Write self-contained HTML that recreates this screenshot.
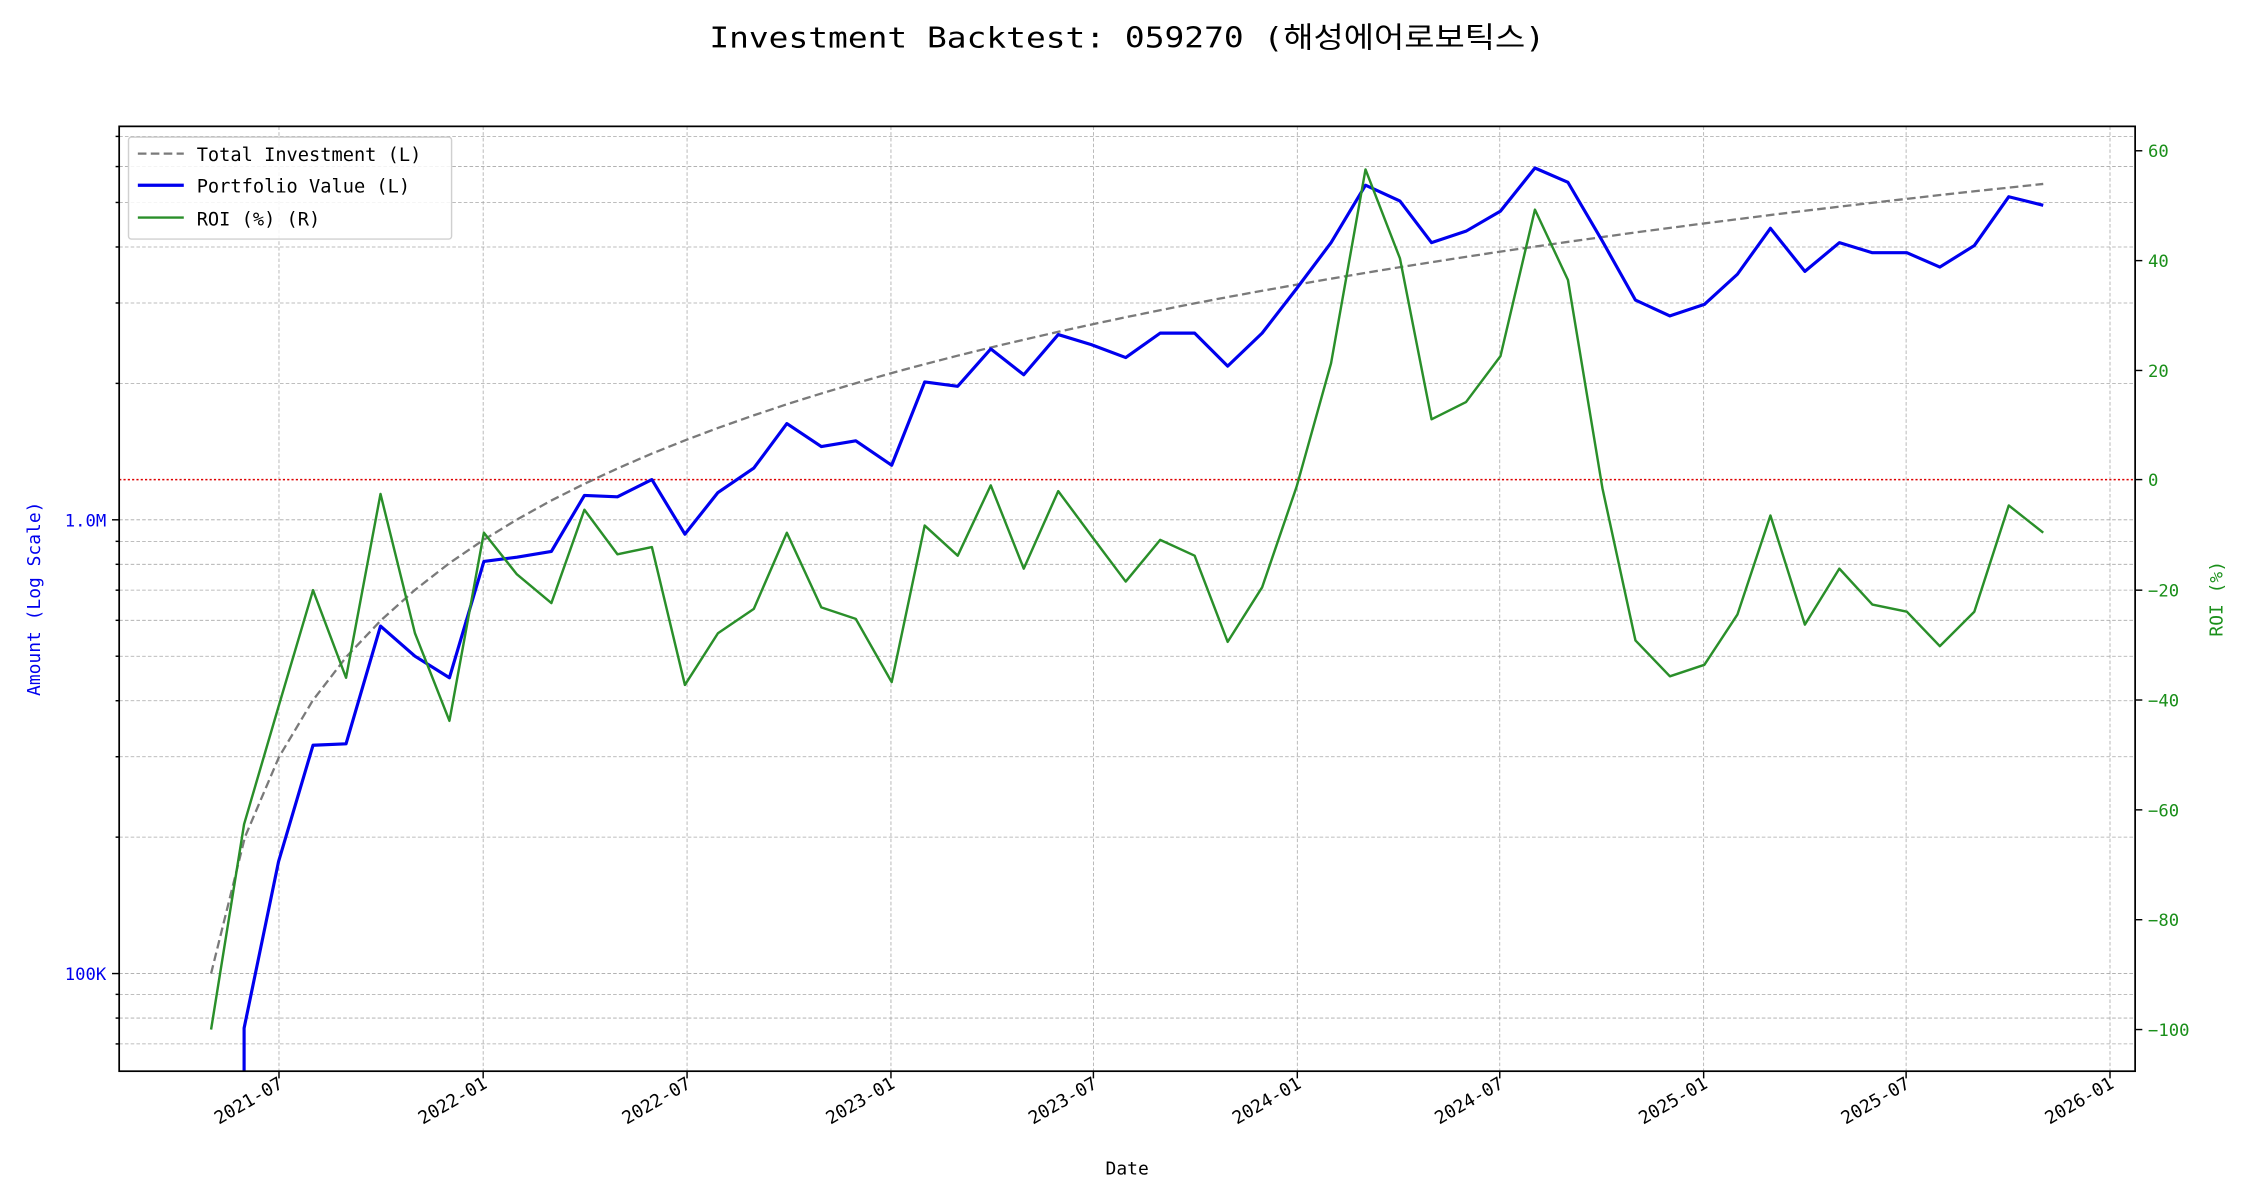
<!DOCTYPE html>
<html><head><meta charset="utf-8"><style>html,body{margin:0;padding:0;background:#fff}svg{display:block}</style></head>
<body>
<svg width="2250" height="1200" viewBox="0 0 1567 835.7" preserveAspectRatio="none" xmlns="http://www.w3.org/2000/svg" font-family="'DejaVu Sans Mono','Liberation Mono','Noto Sans CJK KR',monospace">
<rect width="1567" height="836" fill="#fff"/>
<text x="785" y="33" font-size="20" text-anchor="middle" textLength="582" lengthAdjust="spacingAndGlyphs" fill="#000">Investment Backtest: 059270 (해성에어로보틱스)</text>
<g stroke="#a8a8a8" stroke-width="0.55" stroke-dasharray="2.5,1.5">
<line x1="83" x2="1487" y1="95" y2="95"/><line x1="83" x2="1487" y1="116" y2="116"/><line x1="83" x2="1487" y1="141" y2="141"/><line x1="83" x2="1487" y1="172" y2="172"/><line x1="83" x2="1487" y1="211" y2="211"/><line x1="83" x2="1487" y1="267" y2="267"/><line x1="83" x2="1487" y1="362" y2="362"/><line x1="83" x2="1487" y1="377" y2="377"/><line x1="83" x2="1487" y1="393" y2="393"/><line x1="83" x2="1487" y1="411" y2="411"/><line x1="83" x2="1487" y1="432" y2="432"/><line x1="83" x2="1487" y1="457" y2="457"/><line x1="83" x2="1487" y1="488" y2="488"/><line x1="83" x2="1487" y1="527" y2="527"/><line x1="83" x2="1487" y1="583" y2="583"/><line x1="83" x2="1487" y1="678" y2="678"/><line x1="83" x2="1487" y1="692.5" y2="692.5"/><line x1="83" x2="1487" y1="709" y2="709"/><line x1="83" x2="1487" y1="727" y2="727"/>
<line y1="88" y2="746" x1="194.3" x2="194.3"/><line y1="88" y2="746" x1="336.5" x2="336.5"/><line y1="88" y2="746" x1="478.5" x2="478.5"/><line y1="88" y2="746" x1="620.5" x2="620.5"/><line y1="88" y2="746" x1="761.5" x2="761.5"/><line y1="88" y2="746" x1="903.5" x2="903.5"/><line y1="88" y2="746" x1="1044.5" x2="1044.5"/><line y1="88" y2="746" x1="1186.5" x2="1186.5"/><line y1="88" y2="746" x1="1327.5" x2="1327.5"/><line y1="88" y2="746" x1="1469.5" x2="1469.5"/>
</g>
<line x1="83" x2="1487" y1="334" y2="334" stroke="#d00" stroke-width="1" stroke-dasharray="1.5,1.5"/>
<defs><clipPath id="c"><rect x="83" y="88" width="1404" height="658"/></clipPath></defs>
<g clip-path="url(#c)" fill="none" stroke-linejoin="round">
<polyline stroke="#7a7a7a" stroke-width="1.6" stroke-dasharray="6,3" points="147,678 170.6,582.9 194.3,527.2 217.9,487.7 241.5,457.1 265.2,432.1 288.8,411 312.4,392.6 336,376.5 359.7,362 383.3,348.9 406.9,337 430.6,326 454.2,315.8 477.8,306.4 501.5,297.5 525.1,289.2 548.7,281.3 572.4,273.9 596,266.9 619.6,260.2 643.3,253.8 666.9,247.7 690.5,241.9 714.2,236.3 737.8,230.9 761.4,225.7 785.1,220.7 808.7,215.9 832.3,211.2 856,206.7 879.6,202.4 903.2,198.2 926.9,194.1 950.5,190.1 974.1,186.2 997.8,182.5 1021.4,178.8 1045,175.2 1068.7,171.8 1092.3,168.4 1115.9,165.1 1139.6,161.8 1163.2,158.7 1186.8,155.6 1210.5,152.6 1234.1,149.6 1257.7,146.7 1281.4,143.9 1305,141.1 1328.6,138.4 1352.3,135.7 1375.9,133.1 1399.5,130.6 1423,128.1"/>
<polyline stroke="#0000ee" stroke-width="2.2" points="170,760 170,716 194,600 218,519 241,518 265,436 289,457 313,472 337,391 360,388 384,384 407,345 430,346 454,334 477,372 500,343 525,326 548,295 572,311 596,307 621,324 644,266 667,269 690,243 713,261 737,233 760,240 784,249 808,232 832,232 855,255 879,232 903,201 927,169 951,129 975,140 997,169 1021,161 1045,147 1069,117 1092,127 1116,168 1139,209 1163,220 1187,212 1210,191 1233,159 1257,189 1281,169 1304,176 1328,176 1351,186 1375,171 1399,137 1423,143"/>
<polyline stroke="#2a8f2a" stroke-width="1.7" points="147,717 170,574 194,492 218,411 241,472 265,344 289,441 313,502 337,371 360,400 384,420 407,355 430,386 454,381 477,477 500,441 525,424 548,371 572,423 596,431 621,475 644,366 667,387 690,338 713,396 737,342 760,373 784,405 808,376 832,387 855,447 879,409 903,339 927,253 951,118 975,180 997,292 1021,280 1045,248 1069,146 1092,195 1116,340 1139,446 1163,471 1187,463 1210,428 1233,359 1257,435 1281,396 1304,421 1328,426 1351,450 1375,426 1399,352 1423,371"/>
</g>
<rect x="83" y="88" width="1404" height="658" fill="none" stroke="#000" stroke-width="1.2"/>
<g stroke="#000" stroke-width="1">
<line x1="78" x2="83" y1="362" y2="362"/><line x1="78" x2="83" y1="678" y2="678"/>
<line x1="80.5" x2="83" y1="95" y2="95"/><line x1="80.5" x2="83" y1="116" y2="116"/><line x1="80.5" x2="83" y1="141" y2="141"/><line x1="80.5" x2="83" y1="172" y2="172"/><line x1="80.5" x2="83" y1="211" y2="211"/><line x1="80.5" x2="83" y1="267" y2="267"/><line x1="80.5" x2="83" y1="377" y2="377"/><line x1="80.5" x2="83" y1="393" y2="393"/><line x1="80.5" x2="83" y1="411" y2="411"/><line x1="80.5" x2="83" y1="432" y2="432"/><line x1="80.5" x2="83" y1="457" y2="457"/><line x1="80.5" x2="83" y1="488" y2="488"/><line x1="80.5" x2="83" y1="527" y2="527"/><line x1="80.5" x2="83" y1="583" y2="583"/><line x1="80.5" x2="83" y1="692.5" y2="692.5"/><line x1="80.5" x2="83" y1="709" y2="709"/><line x1="80.5" x2="83" y1="727" y2="727"/>
<line x1="1487" x2="1492" y1="105" y2="105"/><line x1="1487" x2="1492" y1="181.5" y2="181.5"/><line x1="1487" x2="1492" y1="258" y2="258"/><line x1="1487" x2="1492" y1="334" y2="334"/><line x1="1487" x2="1492" y1="411" y2="411"/><line x1="1487" x2="1492" y1="487.5" y2="487.5"/><line x1="1487" x2="1492" y1="564" y2="564"/><line x1="1487" x2="1492" y1="640.5" y2="640.5"/><line x1="1487" x2="1492" y1="717" y2="717"/>
<line y1="746" y2="751" x1="194.3" x2="194.3"/><line y1="746" y2="751" x1="336.5" x2="336.5"/><line y1="746" y2="751" x1="478.5" x2="478.5"/><line y1="746" y2="751" x1="620.5" x2="620.5"/><line y1="746" y2="751" x1="761.5" x2="761.5"/><line y1="746" y2="751" x1="903.5" x2="903.5"/><line y1="746" y2="751" x1="1044.5" x2="1044.5"/><line y1="746" y2="751" x1="1186.5" x2="1186.5"/><line y1="746" y2="751" x1="1327.5" x2="1327.5"/><line y1="746" y2="751" x1="1469.5" x2="1469.5"/>
</g>
<g font-size="12" fill="#0000ee" text-anchor="end"><text x="74" y="366.5">1.0M</text><text x="74" y="682.5">100K</text></g>
<g font-size="12" fill="#1a8f1a"><text x="1496" y="109.5">60</text><text x="1496" y="186">40</text><text x="1496" y="262.5">20</text><text x="1496" y="338.5">0</text><text x="1496" y="415.5">−20</text><text x="1496" y="492">−40</text><text x="1496" y="568.5">−60</text><text x="1496" y="645">−80</text><text x="1496" y="721.5">−100</text></g>
<g font-size="12.5" fill="#000" text-anchor="end">
<text transform="translate(198,757) rotate(-30)">2021-07</text><text transform="translate(340,757) rotate(-30)">2022-01</text><text transform="translate(482,757) rotate(-30)">2022-07</text><text transform="translate(624,757) rotate(-30)">2023-01</text><text transform="translate(765,757) rotate(-30)">2023-07</text><text transform="translate(907,757) rotate(-30)">2024-01</text><text transform="translate(1048,757) rotate(-30)">2024-07</text><text transform="translate(1190,757) rotate(-30)">2025-01</text><text transform="translate(1331,757) rotate(-30)">2025-07</text><text transform="translate(1473,757) rotate(-30)">2026-01</text>
</g>
<text x="785" y="818" font-size="12.5" text-anchor="middle" fill="#000">Date</text>
<text transform="translate(28,417) rotate(-90)" font-size="12.5" text-anchor="middle" fill="#0000ee">Amount (Log Scale)</text>
<text transform="translate(1548,417) rotate(-90)" font-size="12.5" text-anchor="middle" fill="#1a8f1a">ROI (%)</text>
<rect x="89.5" y="95.5" width="225" height="71" rx="2" fill="#fff" fill-opacity="0.85" stroke="#d0d0d0" stroke-width="1"/>
<line x1="96" x2="128" y1="107" y2="107" stroke="#7a7a7a" stroke-width="1.6" stroke-dasharray="6,3"/>
<line x1="96" x2="128" y1="129" y2="129" stroke="#0000ee" stroke-width="2.2"/>
<line x1="96" x2="128" y1="151.5" y2="151.5" stroke="#2a8f2a" stroke-width="1.7"/>
<g font-size="13" fill="#000"><text x="137" y="112">Total Investment (L)</text><text x="137" y="134">Portfolio Value (L)</text><text x="137" y="157">ROI (%) (R)</text></g>
</svg>
</body></html>
